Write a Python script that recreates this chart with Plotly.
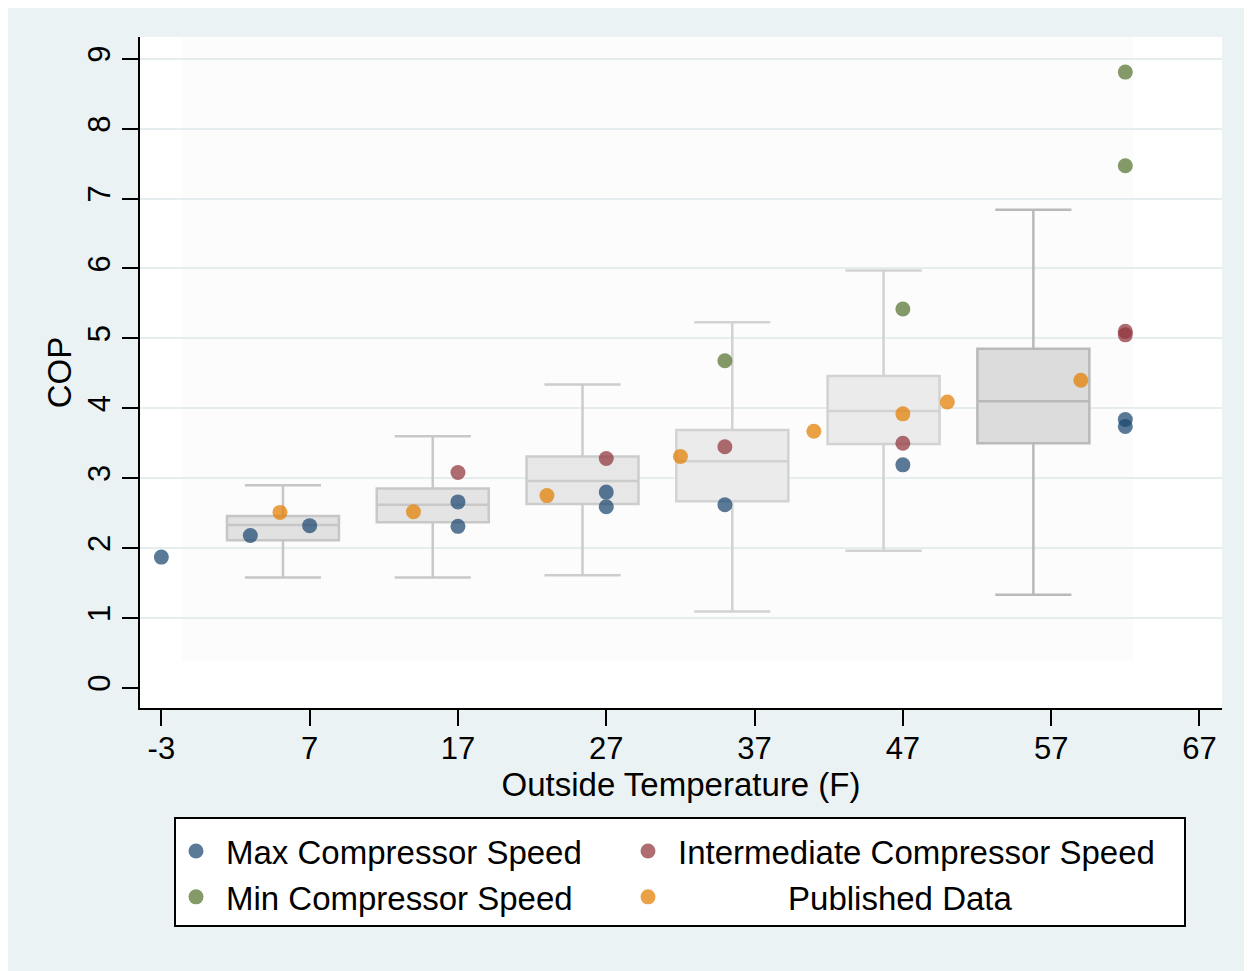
import plotly.graph_objects as go

# ---------------- data ----------------
x_ticks = [-3, 7, 17, 27, 37, 47, 57, 67]
y_ticks = [0, 1, 2, 3, 4, 5, 6, 7, 8, 9]

series_names = ["Max Compressor Speed", "Intermediate Compressor Speed",
                "Min Compressor Speed", "Published Data"]

max_x = [-3, 3, 7, 17, 17, 27, 27, 35, 47, 62, 62]
max_y = [1.87, 2.18, 2.32, 2.66, 2.31, 2.80, 2.59, 2.62, 3.19, 3.84, 3.74]

int_x = [17, 27, 35, 47, 62, 62]
int_y = [3.08, 3.28, 3.45, 3.50, 5.10, 5.05]

min_x = [35, 47, 62, 62]
min_y = [4.68, 5.42, 7.47, 8.81]

pub_x = [5, 14, 23, 32, 41, 47, 50, 59]
pub_y = [2.51, 2.52, 2.75, 3.31, 3.67, 3.92, 4.09, 4.40]

box_pos = [5.2, 15.3, 25.4, 35.5, 45.7, 55.8]
box_lo = [1.58, 1.58, 1.61, 1.09, 1.96, 1.33]
box_q1 = [2.11, 2.37, 2.63, 2.67, 3.49, 3.50]
box_med = [2.33, 2.62, 2.96, 3.24, 3.96, 4.10]
box_q3 = [2.46, 2.85, 3.31, 3.69, 4.46, 4.85]
box_hi = [2.90, 3.60, 4.34, 5.23, 5.97, 6.84]

# ---------------- styles ----------------
FONT = "Liberation Sans, Arial, sans-serif"
box_fill = ["#e1e1e1", "#e4e4e4", "#e7e7e7", "#ebebeb", "#ebebeb", "#dcdcdc"]
box_line = ["#c6c6c6", "#c8c8c8", "#cccccc", "#d2d2d2", "#d2d2d2", "#b9b9b9"]
colors = ["#1a476f", "#90353b", "#55752f", "#e37e00"]
legend_ids = ["legend", "legend2", "legend", "legend2"]

fig = go.Figure()

for i in range(len(box_pos)):
    fig.add_trace(go.Box(
        x=[box_pos[i]], q1=[box_q1[i]], median=[box_med[i]], q3=[box_q3[i]],
        lowerfence=[box_lo[i]], upperfence=[box_hi[i]],
        width=7.55, whiskerwidth=0.68, fillcolor=box_fill[i],
        line=dict(color=box_line[i], width=2.5),
        boxpoints=False, showlegend=False, hoverinfo="skip"))

legend_labels = [series_names[0], series_names[1], series_names[2],
                 "\u00a0" * 12 + series_names[3]]
for xs, ys, c, nm, lg in zip([max_x, int_x, min_x, pub_x], [max_y, int_y, min_y, pub_y],
                             colors, legend_labels, legend_ids):
    fig.add_trace(go.Scatter(
        x=xs, y=ys, mode="markers", name=nm, legend=lg,
        marker=dict(color=c, size=15, opacity=0.72, line=dict(width=0))))

# page body adds an 8px offset; layout coordinates below are given in
# screen pixels and converted to figure pixels
OFF = 8
W, H = 1244, 963
L, R, T, B = 132, 30, 29, 263
pw, ph = W - L - R, H - T - B


def px(xs):
    return (xs - OFF - L) / pw


def py(ys):
    return (H - B - (ys - OFF)) / ph


shapes = [
    # faint inner region
    dict(type="rect", xref="paper", yref="paper", x0=px(182), x1=px(1133),
         y0=py(661), y1=1, fillcolor="#fcfcfc", line=dict(width=0), layer="below"),
    # legend frame
    dict(type="rect", xref="paper", yref="paper", x0=px(175), x1=px(1185),
         y0=py(926), y1=py(818), fillcolor="white",
         line=dict(color="black", width=2), layer="above"),
]

legend_common = dict(orientation="v", yanchor="top", xanchor="left",
                     bgcolor="rgba(0,0,0,0)", borderwidth=0, itemwidth=50,
                     font=dict(family=FONT, size=33, color="black"),
                     traceorder="normal")

fig.update_layout(
    width=W, height=H, autosize=False,
    margin=dict(l=L, r=R, t=T, b=B),
    paper_bgcolor="#eaf2f3", plot_bgcolor="white",
    font=dict(family=FONT, color="black", size=31),
    showlegend=True,
    legend=dict(x=px(166), y=py(823), **legend_common),
    legend2=dict(x=px(618), y=py(823), **legend_common),
    shapes=shapes,
    xaxis=dict(range=[-4.44, 68.52], tickvals=x_ticks, ticktext=[str(v) for v in x_ticks],
               showgrid=False, zeroline=False, showline=True, linecolor="black",
               linewidth=2, ticks="outside", ticklen=16, tickwidth=2, tickcolor="black",
               ticklabelstandoff=-4,
               tickfont=dict(size=31, family=FONT, color="black"),
               title=dict(text="Outside Temperature (F)", standoff=0,
                          font=dict(size=33, family=FONT, color="black"))),
    yaxis=dict(range=[-0.289, 9.312], tickvals=y_ticks, ticktext=[str(v) for v in y_ticks],
               showgrid=True, gridcolor="#e5edef", gridwidth=2,
               zeroline=True, zerolinecolor="white", zerolinewidth=2,
               showline=True, linecolor="black", linewidth=2,
               ticks="outside", ticklen=16, tickwidth=2, tickcolor="black",
               tickangle=-90, ticklabelstandoff=0,
               tickfont=dict(size=31, family=FONT, color="black"),
               title=dict(text="COP", standoff=0,
                          font=dict(size=33, family=FONT, color="black"))),
)

fig.write_html("out.html")
